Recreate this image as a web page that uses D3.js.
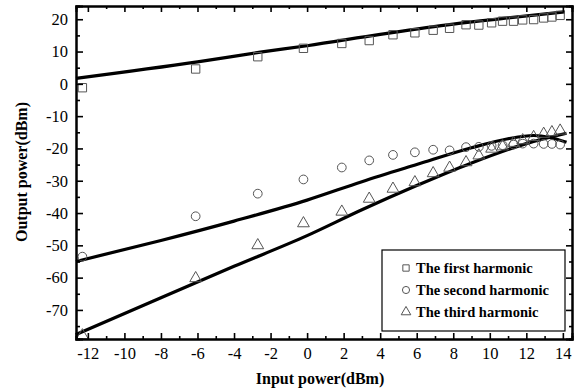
<!DOCTYPE html>
<html>
<head>
<meta charset="utf-8">
<script src="https://cdn.jsdelivr.net/npm/d3@7"></script>
<style>
body { margin: 0; background: #fff; }
svg { display: block; }
svg text { font-family: "Times New Roman", Times, "Liberation Serif", "DejaVu Serif", serif !important; }
</style>
</head>
<body>
<div id="chart"></div>
<script>
const width = 576
const height = 389

// measured input powers (dBm)
const inputPower = [-12.3, -6.1, -2.7, -0.2, 1.9, 3.4, 4.7, 5.9, 6.9, 7.8, 8.7, 9.4, 10.1, 10.7, 11.3, 11.8, 12.4, 12.95, 13.4, 13.85]
const firstHarmonic = [-1.2, 4.6, 8.4, 11.0, 12.5, 13.4, 15.2, 15.8, 16.6, 17.2, 18.3, 18.2, 18.9, 19.4, 19.4, 19.8, 19.9, 20.4, 20.7, 21.2]
const secondHarmonic = [-53.5, -41, -34, -29.6, -25.9, -23.7, -22, -21.2, -20.4, -20.6, -19.6, -19.5, -19.2, -19, -18.8, -18.5, -18.5, -18.6, -18.6, -18.8]
const thirdHarmonic = [-77.9, -60.2, -50, -43.2, -39.6, -35.6, -32.5, -30.5, -27.7, -26, -24.3, -22.2, -20.1, -19.4, -18.3, -17.5, -16.5, -15.5, -15.0, -14.5]

// fitted curves
const fitX1 = [-12.65, -6, -2.56, 0, 4, 8, 11, 14.1]
const fitY1 = [1.7, 6.8, 9.8, 11.8, 15.3, 18.5, 20.4, 22.3]
const fitX2 = [-12.65, -8, -4, 0, 3, 6, 9, 11, 12.4, 13.3, 14.2]
const fitY2 = [-55, -48.5, -42.5, -36, -30.3, -25, -19.8, -17, -16, -16.6, -18.1]
const fitX3 = [-12.65, -8, -4, 0, 3, 6, 9, 12, 14.2]
const fitY3 = [-77.6, -66.2, -56.5, -47, -39, -31.5, -24.5, -18.5, -15.3]

const xTicks = [-12, -10, -8, -6, -4, -2, 0, 2, 4, 6, 8, 10, 12, 14]
const yTicks = [20, 10, 0, -10, -20, -30, -40, -50, -60, -70]
const legendLabels = ["The first harmonic", "The second harmonic", "The third harmonic"]

const mLeft = 76, mRight = 572, mTop = 6, mBottom = 339

const x = d3.scaleLinear().domain([-12.65, 14.5]).range([mLeft, mRight])
const y = d3.scaleLinear().domain([-79, 24.1]).range([mBottom, mTop])

const svg = d3.select("#chart").append("svg")
    .attr("width", width)
    .attr("height", height)

// fit lines
const line = d3.line().x(d => x(d[0])).y(d => y(d[1])).curve(d3.curveMonotoneX)
const fits = [[fitX1, fitY1], [fitX2, fitY2], [fitX3, fitY3]]
fits.forEach(f => {
    svg.append("path")
        .datum(f[0].map((v, i) => [v, f[1][i]]))
        .attr("d", line)
        .attr("fill", "none")
        .attr("stroke", "#000")
        .attr("stroke-width", 3.2)
})

const markColor = "#555"
const square = d3.symbol().type(d3.symbolSquare).size(70)
const circle = d3.symbol().type(d3.symbolCircle).size(60)
const triangle = d3.symbol().type(d3.symbolTriangle).size(60)
const series = [[firstHarmonic, square], [secondHarmonic, circle], [thirdHarmonic, triangle]]

series.forEach(s => {
    svg.append("g").selectAll("path")
        .data(s[0])
        .enter()
        .append("path")
        .attr("transform", (d, i) => "translate(" + x(inputPower[i]) + "," + y(d) + ")")
        .attr("d", s[1])
        .attr("fill", "none")
        .attr("stroke", markColor)
        .attr("stroke-width", 1)
})

// axes
const xMinor = d3.range(-11, 15, 2)
const yMinor = [15, 5, -5, -15, -25, -35, -45, -55, -65, -75]
const plain = d => String(d)   // keep ascii hyphen for negatives

const bottomAxis = svg.append("g").attr("transform", "translate(0," + mBottom + ")")
    .call(d3.axisTop(x).tickValues(xTicks).tickSize(6).tickFormat(""))
bottomAxis.append("g").call(d3.axisTop(x).tickValues(xMinor).tickSize(3).tickFormat(""))
svg.append("g").attr("transform", "translate(0," + mBottom + ")")
    .call(d3.axisBottom(x).tickValues(xTicks).tickSize(0).tickPadding(8).tickFormat(plain))
    .call(g => g.select(".domain").remove())

const topAxis = svg.append("g").attr("transform", "translate(0," + mTop + ")")
    .call(d3.axisBottom(x).tickValues(xTicks).tickSize(6).tickFormat(""))
topAxis.append("g").call(d3.axisBottom(x).tickValues(xMinor).tickSize(3).tickFormat(""))

const leftAxis = svg.append("g").attr("transform", "translate(" + mLeft + ",0)")
    .call(d3.axisRight(y).tickValues(yTicks).tickSize(7).tickFormat(""))
leftAxis.append("g").call(d3.axisRight(y).tickValues(yMinor).tickSize(4).tickFormat(""))
svg.append("g").attr("transform", "translate(" + mLeft + ",0)")
    .call(d3.axisLeft(y).tickValues(yTicks).tickSize(0).tickPadding(8).tickFormat(plain))
    .call(g => g.select(".domain").remove())

const rightAxis = svg.append("g").attr("transform", "translate(" + mRight + ",0)")
    .call(d3.axisLeft(y).tickValues(yTicks).tickSize(6).tickFormat(""))
rightAxis.append("g").call(d3.axisLeft(y).tickValues(yMinor).tickSize(3).tickFormat(""))

svg.selectAll(".domain").attr("stroke", "#000").attr("stroke-width", 2)
svg.selectAll(".tick line").attr("stroke", "#000").attr("stroke-width", 1.6)
svg.selectAll(".tick text")
    .style("font-size", "16.5px")
    .attr("fill", "#000")

// axis titles
svg.append("text")
    .attr("x", 320)
    .attr("y", 384)
    .attr("text-anchor", "middle")
    .attr("font-weight", "bold")
    .attr("font-size", 16)
    .text("Input power(dBm)")

svg.append("text")
    .attr("transform", "translate(27,172) rotate(-90)")
    .attr("text-anchor", "middle")
    .attr("font-weight", "bold")
    .attr("font-size", 16)
    .text("Output power(dBm)")

// legend
const legend = svg.append("g")
legend.append("rect")
    .attr("x", 382)
    .attr("y", 250)
    .attr("width", 183)
    .attr("height", 81)
    .attr("fill", "#fff")
    .attr("stroke", "#000")
    .attr("stroke-width", 1.2)

const legendSymbols = [square, circle, triangle]
legendLabels.forEach((label, i) => {
    const ly = 268 + i * 22
    legend.append("path")
        .attr("transform", "translate(406," + ly + ")")
        .attr("d", legendSymbols[i].size(40)())
        .attr("fill", "none")
        .attr("stroke", markColor)
    legend.append("text")
        .attr("x", 416)
        .attr("y", ly + 5)
        .attr("font-weight", "bold")
        .attr("font-size", 14.5)
        .text(label)
})
</script>
</body>
</html>
